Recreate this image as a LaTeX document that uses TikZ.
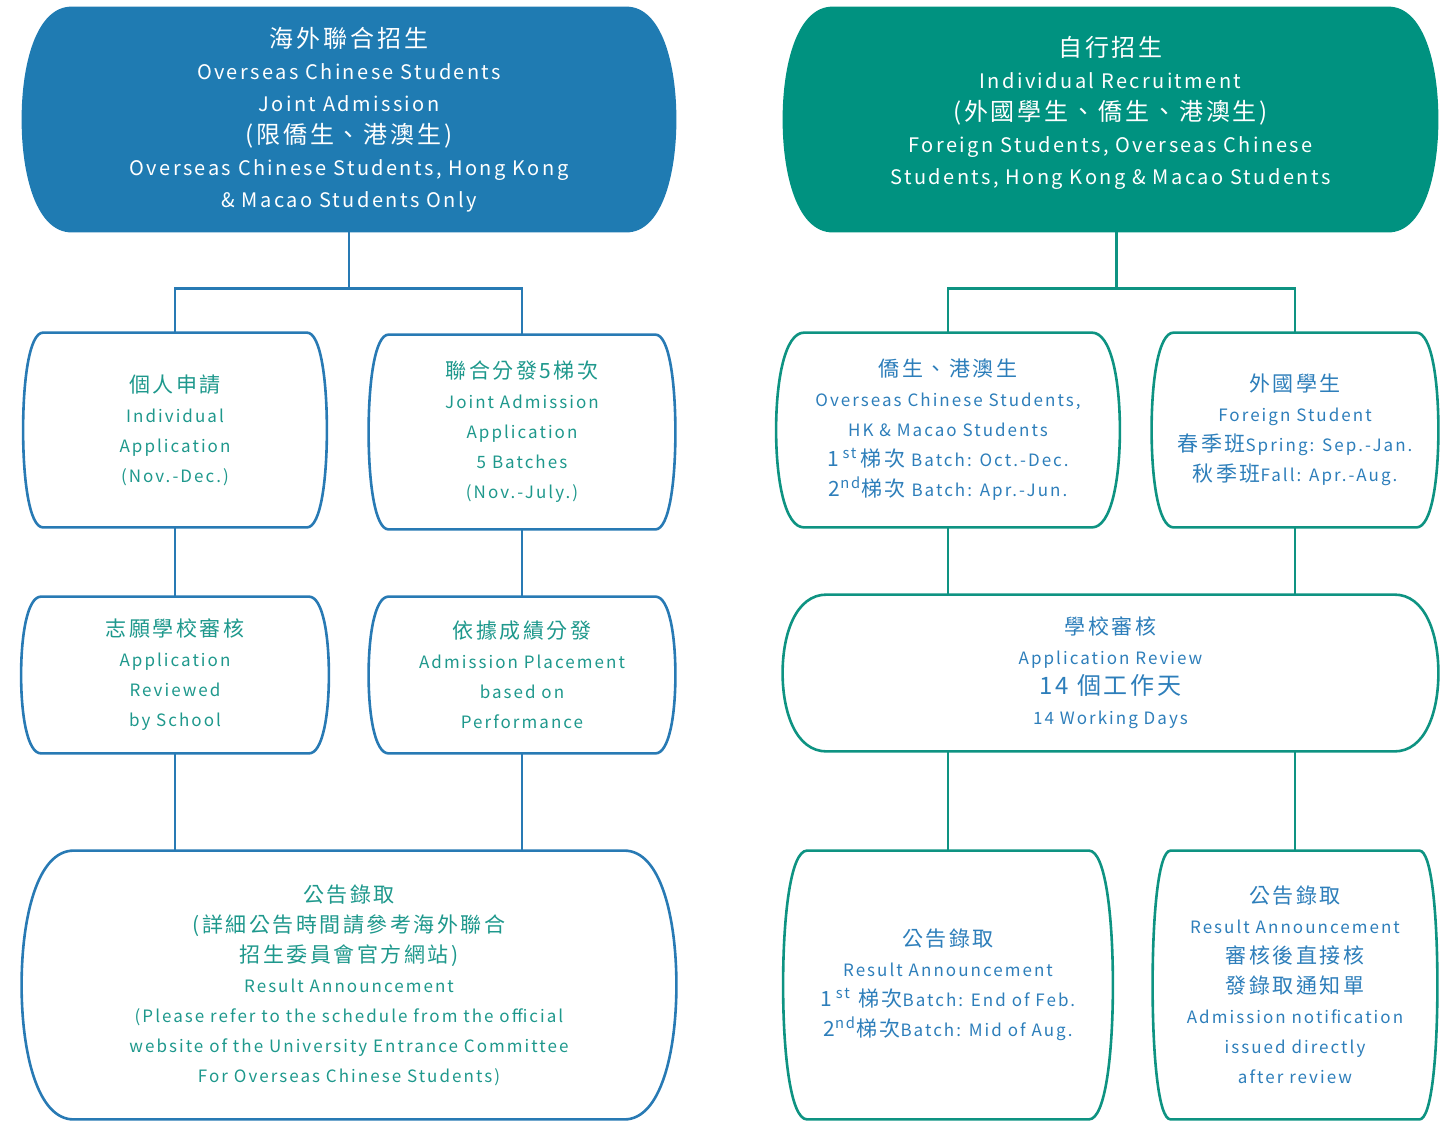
\documentclass[tikz,border=0pt]{standalone}
\usepackage{fontspec}
\setmainfont{Noto Sans CJK TC}[LetterSpace=12]
\usetikzlibrary{backgrounds,calc}

\definecolor{ocsBlue}{RGB}{31,123,178}
\definecolor{irTeal}{RGB}{0,146,128}
\definecolor{ocsLine}{RGB}{40,122,180}
\definecolor{irLine}{RGB}{14,147,130}
\definecolor{ocsText}{RGB}{30,152,140}
\definecolor{irText}{RGB}{45,126,186}

\newcommand\zh[1]{{\fontsize{10.5}{15}\selectfont #1}}
\newcommand\zhtop[1]{{\fontsize{12}{16}\selectfont #1}}

% Umriss: gerade oben/unten, Seiten nach aussen gewoelbt
\newcommand\bulgepath[2]{%
  ([xshift=#2]#1.north west) -- ([xshift=-#2]#1.north east)
  .. controls ([xshift=-0.3*#2]#1.north east) and ($(#1.north east)!0.5!(#1.east)$) .. (#1.east)
  .. controls ($(#1.south east)!0.5!(#1.east)$) and ([xshift=-0.3*#2]#1.south east) .. ([xshift=-#2]#1.south east)
  -- ([xshift=#2]#1.south west)
  .. controls ([xshift=0.3*#2]#1.south west) and ($(#1.south west)!0.5!(#1.west)$) .. (#1.west)
  .. controls ($(#1.north west)!0.5!(#1.west)$) and ([xshift=0.3*#2]#1.north west) .. cycle}

\begin{document}
\begin{tikzpicture}[x=0.5pt, y=-0.5pt,
    headbox/.style={rectangle, inner sep=0pt, align=center, text=white,
        font=\fontsize{10}{16}\selectfont},
    stage/.style={rectangle, inner sep=0pt, align=center,
        font=\fontsize{8.5}{15}\selectfont},
    ocs/.style={stage, text=ocsText},
    ir/.style={stage, text=irText},
    ocshead/.style={fill=ocsBlue},
    irhead/.style={fill=irTeal},
    ocsframe/.style={draw=ocsLine, line width=1.3pt},
    irframe/.style={draw=irLine, line width=1.3pt},
    ocslink/.style={draw=ocsLine, line width=1.3pt},
    irlink/.style={draw=irLine, line width=1.3pt}
    ]
    \useasboundingbox (0,0) rectangle (1452,1121);

    % Kopfknoten
    \node[headbox, minimum width=327pt, minimum height=112.5pt] (T1) at (349,119.5)
        {\zhtop{海外聯合招生}\\ Overseas Chinese Students\\ Joint Admission\\
         \zhtop{(限僑生、港澳生)}\\ Overseas Chinese Students, Hong Kong\\ \& Macao Students Only};
    \node[headbox, minimum width=327.5pt, minimum height=112.5pt] (T2) at (1110.5,119.5)
        {\zhtop{自行招生}\\ Individual Recruitment\\ \zhtop{(外國學生、僑生、港澳生)}\\
         Foreign Students, Overseas Chinese\\ Students, Hong Kong \& Macao Students\rule[-9.5pt]{0pt}{0pt}};

    % linke Spalte
    \node[ocs, minimum width=151.5pt, minimum height=97pt] (A) at (175,430)
        {\zh{個人申請}\\ Individual\\ Application\\ (Nov.-Dec.)};
    \node[ocs, minimum width=153pt, minimum height=97pt] (B) at (522,432)
        {\zh{聯合分發5梯次}\\ Joint Admission\\ Application\\ 5 Batches\\ (Nov.-July.)};
    \node[ocs, minimum width=153.5pt, minimum height=78pt] (C) at (175,675)
        {\zh{志願學校審核}\\ Application\\ Reviewed\\ by School};
    \node[ocs, minimum width=153pt, minimum height=78pt] (D) at (522,675)
        {\zh{依據成績分發}\\ Admission Placement\\ based on\\ Performance};
    \node[ocs, minimum width=327pt, minimum height=134pt] (E) at (349,985)
        {\zh{公告錄取}\\ \zh{(詳細公告時間請參考海外聯合}\\ \zh{招生委員會官方網站)}\\
         Result Announcement\\ (Please refer to the schedule from the official\\
         website of the University Entrance Committee\\ For Overseas Chinese Students)};

    % rechte Spalte
    \node[ir, minimum width=171.5pt, minimum height=97pt] (F) at (948,430)
        {\zh{僑生、港澳生}\\ Overseas Chinese Students,\\ HK \& Macao Students\\
         \zh{1\,\textsuperscript{st}\,梯次} Batch: Oct.-Dec.\\ \zh{2\textsuperscript{nd}梯次} Batch: Apr.-Jun.};
    \node[ir, minimum width=143pt, minimum height=97pt] (G) at (1295,430)
        {\zh{外國學生}\\ Foreign Student\\ \zh{春季班}Spring: Sep.-Jan.\\ \zh{秋季班}Fall: Apr.-Aug.};
    \node[ir, minimum width=327.5pt, minimum height=78pt] (H) at (1110.5,673)
        {\zh{學校審核}\\ Application Review\\ \zhtop{14 個工作天}\\ 14 Working Days};
    \node[ir, minimum width=164.5pt, minimum height=134pt] (I) at (948,985)
        {\zh{公告錄取}\\ Result Announcement\\ \zh{1\,\textsuperscript{st} 梯次}Batch: End of Feb.\\
         \zh{2\textsuperscript{nd}梯次}Batch: Mid of Aug.};
    \node[ir, minimum width=142pt, minimum height=134pt] (J) at (1295,985)
        {\zh{公告錄取}\\ Result Announcement\\ \zh{審核後直接核}\\ \zh{發錄取通知單}\\
         Admission notification\\ issued directly\\ after review};

    % Umrisse
    \begin{scope}[on background layer]
        \foreach \n/\d/\s in {T1/25pt/ocshead, T2/25pt/irhead,
                A/10pt/ocsframe, B/10pt/ocsframe, C/10pt/ocsframe, D/10pt/ocsframe, E/26pt/ocsframe,
                F/14pt/irframe, G/11pt/irframe, H/22pt/irframe, I/12pt/irframe, J/9pt/irframe}
            \path[\s] \bulgepath{\n}{\d};
    \end{scope}

    % Leiter
    \draw[ocslink] (T1.south) -- ++(0,56) coordinate (ocsfork);
    \draw[ocslink] (A.north) |- (ocsfork) -| (B.north);
    \draw[ocslink] (A.south) -- (C.north);
    \draw[ocslink] (B.south) -- (D.north);
    \draw[ocslink] (C.south) -- (C.south |- E.north);
    \draw[ocslink] (D.south) -- (D.south |- E.north);

    \draw[irlink] ([xshift=3pt]T2.south) -- ++(0,56) coordinate (irfork);
    \draw[irlink] (F.north) |- (irfork) -| (G.north);
    \draw[irlink] (F.south) -- (F.south |- H.north);
    \draw[irlink] (G.south) -- (G.south |- H.north);
    \draw[irlink] (I.north |- H.south) -- (I.north);
    \draw[irlink] (J.north |- H.south) -- (J.north);
\end{tikzpicture}
\end{document}
